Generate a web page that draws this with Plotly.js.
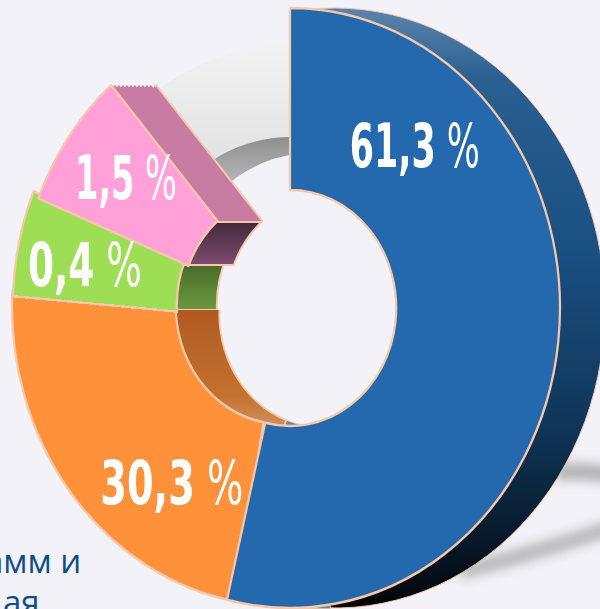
<!DOCTYPE html>
<html><head><meta charset="utf-8">
<script src="https://cdn.plot.ly/plotly-3.0.1.min.js"></script>
<style>html,body{margin:0;padding:0;width:600px;height:609px;overflow:hidden;background:#F3F2F8}#c{width:700px;height:609px}</style>
</head><body><div id="c"></div>
<script>
// slice data: drawn angular extent (degrees, clockwise from top) and printed percentage
const sliceNames = ['Синий','Оранжевый','Зелёный','Розовый','Серый'];
const drawnDegrees = [193.5, 78.5, 20, 27, 41];
const shownLabels = ['61,3','30,3','0,4','1,5'];
const faceColors = ['#2469AE','#FF913B','#9EDE55','#FFA0D8','#ECECEC'];
const edge = '#F6C8A8';
const bg = '#F3F2F8';
const W = 700, H = 609, SX = 0.9;
const TR = 'rgba(246,200,168,0)';

function ring(cx, cy, R, holeRy, start, deg, color, lw, name) {
  return {type:'pie', sort:false, direction:'clockwise', rotation:start, name:name,
    values:[deg, 360-deg], hole:holeRy/R, textinfo:'none', hoverinfo:'skip', showlegend:false,
    marker:{colors:[color,'rgba(0,0,0,0)'], line:{color:[edge,'rgba(0,0,0,0)'], width:[lw,0]}},
    domain:{x:[(cx/SX-R)/W,(cx/SX+R)/W], y:[Math.max(0,1-(cy+R)/H), Math.min(1,1-(cy-R)/H)]}};
}
const starts = drawnDegrees.map((d,i)=>drawnDegrees.slice(0,i).reduce((a,b)=>a+b,0));
const D = 45;
const sweepShifts = [4,8,12,16,20,24,28,32,36,40];
const traces = [
  ring(312,308,190,155, starts[4], drawnDegrees[4], '#A8A8A8', 0, 'greyWall'),
  ring(290,308,263,171, starts[4], drawnDegrees[4], faceColors[4], 0, 'greyFace'),
  ring(290+D,308,300,118, -9, 194, '#1A4E80', 1, 'blueDepth'),
  ring(321,314,295,113, 178, 22, '#5E88AA', 1, 'blueSliver'),
  ...sweepShifts.map(s=>ring(287+s,310,298,118, 300, 19, '#C87CA4', 0, 'pinkSweep')),
  ring(287+D,310,298,118, 280, 39, '#C87CA4', 2, 'pinkDepth'),
  ring(287+D,310,298,118, 280, 39, 'rgba(0,0,0,0)', 2, 'pinkCut'),
  ring(323,306,300,118, 265, 35, '#4C702C', 2, 'greenDepth'),
  ring(321,314,295,113, 200, 82, '#B8622A', 2, 'orangeDepth'),
  ring(282,306,300,118, 190, 83, faceColors[1], 2.5, 'orange'),
  ring(283,306,300,118, 262, 30.5, faceColors[2], 2.5, 'green'),
  ring(287,310,298,118, starts[3], drawnDegrees[3], faceColors[3], 2.5, 'pink'),
  ring(290,308,300,118, starts[0], drawnDegrees[0], faceColors[0], 2.5, 'blue')
];
// vertical gradients by real picture y: [y, colour]
const M='#C87CA4';
const fills = {
  greyWall:[[135,'#8C8C8C'],[190,'#BDBDBD']],
  greyFace:[[45,'#F2F2F2'],[165,'#E2E2E2']],
  blueDepth:[[8,'#5A84AC'],[80,'#2A5F92'],[250,'#1A4F82'],[430,'#0F3557'],[550,'#061626'],[608,'#020304']],
  pinkSweep:[[85.5,edge],[85.5,M],[222,M],[222,TR]],
  pinkDepth:[[80,edge],[85.5,edge],[85.5,M],[221,M],[221,edge],[223,edge],[223,'#452A3A'],[264,'#7C4C70'],[264,edge],[266,edge],[266,TR]],
  greenDepth:[[266,TR],[266,'#4A6C2A'],[308.5,'#6A983C'],[308.5,edge],[310.5,edge],[310.5,TR]],
  orangeDepth:[[310,TR],[310,'#B05A22'],[395,'#C4712F'],[428,'#D09060']]
};
const strokes = {
  pinkDepth:[[222,TR],[222,edge],[266,edge],[266,TR]],
  greenDepth:[[266,TR],[266,edge],[310,edge],[310,TR]],
  orangeDepth:[[310,TR],[310,edge]]
};
function ann(text,x,y,size,color,font,xa){
  return {text:text,x:x/W,y:1-y/H,xref:'paper',yref:'paper',xanchor:xa||'center',yanchor:'middle',showarrow:false,
    font:{size:size,color:color,family:font}};
}
const narrow='"Liberation Sans Narrow","DejaVu Sans Condensed",sans-serif';
const lbl=(i,x,y)=>ann('<b>'+shownLabels[i]+'</b> %',x,y,60,'#FFFFFF',narrow);
const labelWidths=[130,143,114,102];
const layout = {width:W,height:H,margin:{l:0,r:0,t:0,b:0},paper_bgcolor:bg,plot_bgcolor:bg,showlegend:false,
  shapes:[
    {type:'path',xref:'paper',yref:'paper',layer:'below',line:{color:'#AEAEB0',width:16},
     path:`M ${555/W} ${1-472/H} Q ${585/W} ${1-470/H} ${620/W} ${1-476/H}`},
    {type:'path',xref:'paper',yref:'paper',layer:'below',line:{color:'#B6B6B8',width:15},
     path:`M ${460/W} ${1-572/H} Q ${540/W} ${1-552/H} ${620/W} ${1-525/H}`}
  ],
  annotations:[
    lbl(0,415,146), lbl(1,172,483), lbl(2,85,265), lbl(3,126,178),
    ann('амм и',83,560,33,'#0B4F85','"Open Sans",sans-serif','right'),
    ann('ая',1,601,33,'#0B4F85','"Open Sans",sans-serif','left')
  ]};
Plotly.newPlot('c',traces,layout,{staticPlot:true,displayModeBar:false}).then(gd=>{
  const NS='http://www.w3.org/2000/svg';
  const svg=gd.querySelector('.main-svg');
  const defs=document.createElementNS(NS,'defs');
  svg.insertBefore(defs,svg.firstChild);
  const f=document.createElementNS(NS,'filter');
  f.setAttribute('id','soft');f.setAttribute('filterUnits','userSpaceOnUse');
  f.setAttribute('x','0');f.setAttribute('y','0');f.setAttribute('width',W);f.setAttribute('height',H);
  const b=document.createElementNS(NS,'feGaussianBlur');b.setAttribute('stdDeviation','6');f.appendChild(b);defs.appendChild(f);
  gd.querySelectorAll('.shapelayer path').forEach(p=>p.style.filter='url(#soft)');
  const pl=gd.querySelector('.pielayer');
  pl.setAttribute('transform',`scale(${SX},1)`);
  function makeGrad(id,x1,y1,x2,y2,stops){
    const lg=document.createElementNS(NS,'linearGradient');
    lg.setAttribute('id',id);lg.setAttribute('gradientUnits','userSpaceOnUse');
    lg.setAttribute('x1',x1);lg.setAttribute('y1',y1);lg.setAttribute('x2',x2);lg.setAttribute('y2',y2);
    stops.forEach(s=>{const st=document.createElementNS(NS,'stop');st.setAttribute('offset',s[0]);
      if(s[1]===TR){st.setAttribute('stop-color',edge);st.setAttribute('stop-opacity','0');}
      else st.setAttribute('stop-color',s[1]);
      lg.appendChild(st);});
    defs.appendChild(lg);
  }
  Object.keys(fills).forEach(k=>makeGrad('gf'+k,0,0,0,H,fills[k].map(s=>[s[0]/H,s[1]])));
  Object.keys(strokes).forEach(k=>makeGrad('gs'+k,0,0,0,H,strokes[k].map(s=>[s[0]/H,s[1]])));
  const ts=pl.querySelectorAll('.trace');
  ts.forEach((t,i)=>{
    const surf=t.querySelector('.slice .surface'); if(!surf) return;
    const k=traces[i].name;
    if(fills[k]) surf.style.fill=`url(#gf${k})`;
    if(strokes[k]) surf.style.stroke=`url(#gs${k})`;
  });
  // cut edge of the pink band: stroke shown only along the slice's end ray
  const th=41*Math.PI/180, px0=(287+D)/SX-118*Math.sin(th), py0=310-118*Math.cos(th);
  const n1=Math.cos(th), n2=-Math.sin(th), E=10;
  makeGrad('gCut',px0-E*n1,py0-E*n2,px0+E*n1,py0+E*n2,[[0.4,TR],[0.4,edge],[0.6,edge],[0.6,TR]]);
  const cut=ts[traces.findIndex(t=>t.name==='pinkCut')].querySelector('.slice .surface');
  cut.style.stroke='url(#gCut)';
  // green / orange boundary runs from the outer corner to the inner corner
  const ax=13/SX, ay=295, nx=-0.084, ny=0.996, L=40;
  makeGrad('gGreenF',ax,ay,ax+nx*L,ay+ny*L,[[0,faceColors[2]],[0,edge],[0.06,edge],[0.06,TR]]);
  makeGrad('gGreenS',ax,ay,ax+nx*L,ay+ny*L,[[0.06,edge],[0.06,TR]]);
  const gs=ts[traces.findIndex(t=>t.name==='green')].querySelector('.slice .surface');
  gs.style.fill='url(#gGreenF)';gs.style.stroke='url(#gGreenS)';
  gd.querySelectorAll('.annotation-text').forEach((t,i)=>{
    if(i>3) return;
    const bb=t.getBBox(); const c=bb.x+bb.width/2; const k=labelWidths[i]/bb.width;
    t.setAttribute('transform',`translate(${c},0) scale(${k},1) translate(${-c},0)`);
  });
});
</script></body></html>
